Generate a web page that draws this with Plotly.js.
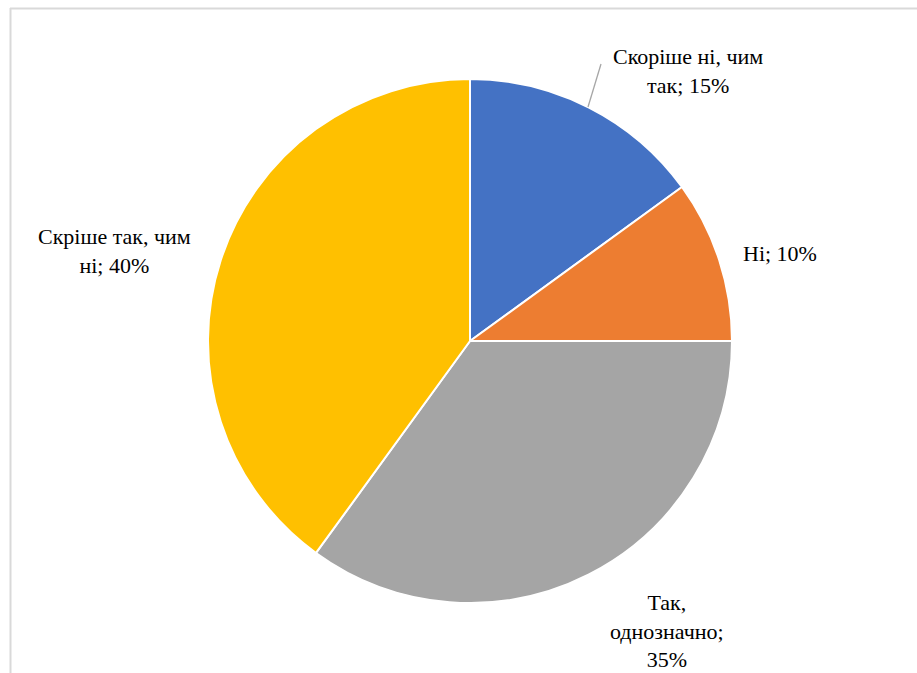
<!DOCTYPE html>
<html>
<head>
<meta charset="utf-8">
<script src="https://cdn.plot.ly/plotly-3.0.1.min.js"></script>
<style>html,body{margin:0;padding:0;background:#fff;}#chart{width:917px;height:673px;}</style>
</head>
<body>
<div id="chart"></div>
<script>
const categories = ["Скоріше ні, чим так", "Ні", "Так, однозначно", "Скріше так, чим ні"];
const wrappedLabels = ["Скоріше ні, чим<br>так", "Ні", "Так,<br>однозначно;<br>", "Скріше так, чим<br>ні"];
const values = [15, 10, 35, 40];
const colors = ["#4472C4", "#ED7D31", "#A5A5A5", "#FFC000"];

const W = 917, H = 673;
const cx = 470, cy = 341, r = 262;
const labelPos = [[688, 71], [780, 253], [667, 631], [114, 251]];

function labelText(i) {
  const w = wrappedLabels[i];
  if (w.endsWith("<br>")) return w + values[i] + "%";
  return w + "; " + values[i] + "%";
}

const trace = {
  type: "pie",
  labels: categories,
  values: values,
  sort: false,
  direction: "clockwise",
  rotation: 0,
  textinfo: "none",
  marker: {colors: colors, line: {color: "#ffffff", width: 2}},
  domain: {x: [(cx - r) / W, (cx + r) / W], y: [(H - cy - r) / H, (H - cy + r) / H]},
  showlegend: false
};

const annotations = categories.map((c, i) => ({
  text: labelText(i),
  x: labelPos[i][0] / W, y: 1 - labelPos[i][1] / H,
  xref: "paper", yref: "paper", xanchor: "center", yanchor: "middle",
  showarrow: false, align: "center",
  font: {family: "Times New Roman", size: 22, color: "#000000"}
}));

const layout = {
  width: W, height: H,
  margin: {l: 0, r: 0, t: 0, b: 0},
  paper_bgcolor: "#ffffff",
  showlegend: false,
  annotations: annotations,
  shapes: [
    {type: "line", xref: "paper", yref: "paper", x0: 10.5 / W, x1: 10.5 / W, y0: 0, y1: 1 - 8 / H, line: {color: "#d9d9d9", width: 2}},
    {type: "line", xref: "paper", yref: "paper", x0: 10 / W, x1: 1, y0: 1 - 8.5 / H, y1: 1 - 8.5 / H, line: {color: "#d9d9d9", width: 2}},
    {type: "line", xref: "paper", yref: "paper", x0: 588 / W, x1: 601 / W, y0: 1 - 107 / H, y1: 1 - 64 / H, line: {color: "#a6a6a6", width: 1.3}}
  ]
};

Plotly.newPlot("chart", [trace], layout, {displayModeBar: false});
</script>
</body>
</html>
